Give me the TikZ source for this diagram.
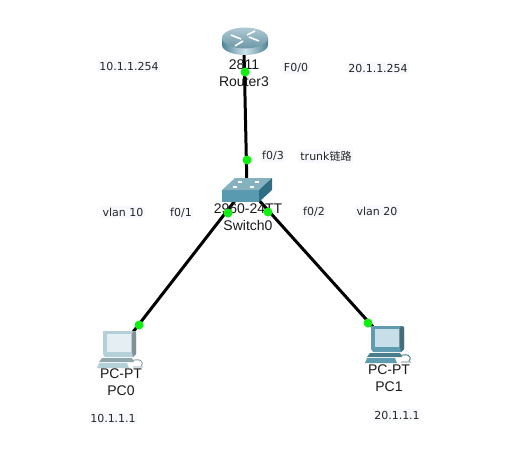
\documentclass[tikz,border=0pt]{standalone}
\usepackage{fontspec}
\setmainfont{Liberation Sans}
\newfontfamily\notefont{DejaVu Sans}
\newfontfamily\cjkfont{Noto Sans CJK SC}
\usepackage{xcolor}
\definecolor{portgreen}{HTML}{10F010}
\definecolor{notefill}{HTML}{F7F9FD}
\definecolor{routerdark}{HTML}{4F8496}
\definecolor{routerlight}{HTML}{CFE3EA}
\definecolor{routertop}{HTML}{8DB3C2}
\definecolor{switchtop}{HTML}{86B2C0}
\definecolor{switchfront}{HTML}{5A9AB0}
\definecolor{switchside}{HTML}{2F6F86}
\definecolor{pcframe}{HTML}{B4D0D9}
\definecolor{pcscreen}{HTML}{E4EEF3}
\definecolor{pcframedark}{HTML}{5F9CB0}
\definecolor{pcscreendark}{HTML}{C8DEE8}
\newcommand{\pcicon}[4]{% x, y, frame, screen
  \begin{scope}[shift={(#1,#2)}]
    \fill[#3] (0,0) -- (32,0) -- (33,3) -- (33,23) -- (30,26) -- (2,26) -- (0,23) -- cycle;
    \fill[#3!70!black] (30,0) -- (33,1) -- (33,23) -- (30,26) -- (29,21) -- (29,3) -- cycle;
    \fill[#4] (4,3) -- (28,3) -- (28,21) -- (4,21) -- cycle;
    \fill[#3!80!black] (-1,27) -- (29,27) -- (31,31) -- (-4,31) -- cycle;
    \fill[#3] (-4,32) -- (24,32) -- (26,37) -- (-6,37) -- cycle;
    \draw[#3!75!black,line width=0.9] (28,30) .. controls (36,27) and (42,30) .. (38,35) (30,36) -- (40,36);
  \end{scope}
}
\tikzset{
  link/.style={line width=3,black},
  port/.style={circle,fill=portgreen,inner sep=0pt,minimum size=9},
  devlabel/.style={font=\fontsize{14}{16.5}\selectfont,align=center,inner sep=0pt,text=black!90},
  note/.style={font=\notefont\fontsize{11}{13}\selectfont,fill=notefill,inner sep=1.5pt,text=black!85}
}
\begin{document}
\begin{tikzpicture}[x=1pt,y=-1pt]
  \useasboundingbox (0,0) rectangle (526,455);
  % anchors on the devices
  \coordinate (Router3) at (244,50);
  \coordinate (Switch0) at (247,190);
  \coordinate (SwitchL) at (237,198);
  \coordinate (SwitchR) at (257,198);
  \coordinate (PC0) at (133,332);
  \coordinate (PC1) at (374,328);
  % links
  \draw[link] (Router3) -- (Switch0);
  \draw[link] (SwitchL) -- (PC0);
  \draw[link] (SwitchR) -- (PC1);
  % router
  \shade[left color=routerdark,right color=routerdark,middle color=routerlight]
    (222,38) -- (222,45) arc[start angle=180,end angle=0,x radius=23,y radius=10] -- (268,38) -- cycle;
  \shade[top color=routertop!70!white,bottom color=routerdark!85] (245,38) ellipse[x radius=23,y radius=10.5];
  \draw[white,line width=1.6] (231,35) -- (241,39) (259,41) -- (249,37) (235,46) -- (243,41) (255,31) -- (247,35);
  % switch
  \fill[switchtop] (222,190) -- (235,178) -- (272,178) -- (259,190) -- cycle;
  \fill[switchfront] (222,190) -- (259,190) -- (259,202) -- (222,202) -- cycle;
  \fill[switchside] (259,190) -- (272,178) -- (272,190) -- (259,202) -- cycle;
  \foreach \portx/\porty in {238/181,255/181,233/186,250/186}
    \fill[white] (\portx,\porty) rectangle ++(4,1.5);
  % pcs
  \pcicon{103}{331}{pcframe}{pcscreen}
  \pcicon{371}{326}{pcframedark}{pcscreendark}
  % device labels
  \node[devlabel] (lblRouter) at (244,73) {2811\\Router3};
  \node[devlabel] (lblSwitch) at (248,217) {2960-24TT\\Switch0};
  \node[devlabel] (lblPC0) at (121,382) {PC-PT\\PC0};
  \node[devlabel] (lblPC1) at (389,378) {PC-PT\\PC1};
  % ports
  \node[port] (pRouter) at (245,72) {};
  \node[port] (pSwitchTop) at (247,160) {};
  \node[port] (pSwitchL) at (228,213) {};
  \node[port] (pSwitchR) at (268,212) {};
  \node[port] (pPC0) at (139,325) {};
  \node[port] (pPC1) at (368,323) {};
  % notes
  \node[note] (ipRouterL) at (129,66) {10.1.1.254};
  \node[note] (f00) at (296,68) {F0/0};
  \node[note] (ipRouterR) at (378,68) {20.1.1.254};
  \node[note] (f03) at (273,156) {f0/3};
  \node[note] (trunk) at (326,156) {trunk{\cjkfont 链路}};
  \node[note] (vlan10) at (123,212) {vlan 10};
  \node[note] (f01) at (181,213) {f0/1};
  \node[note] (f02) at (314,212) {f0/2};
  \node[note] (vlan20) at (377,211) {vlan 20};
  \node[note] (ipPC0) at (113,418) {10.1.1.1};
  \node[note] (ipPC1) at (397,415) {20.1.1.1};
\end{tikzpicture}
\end{document}
